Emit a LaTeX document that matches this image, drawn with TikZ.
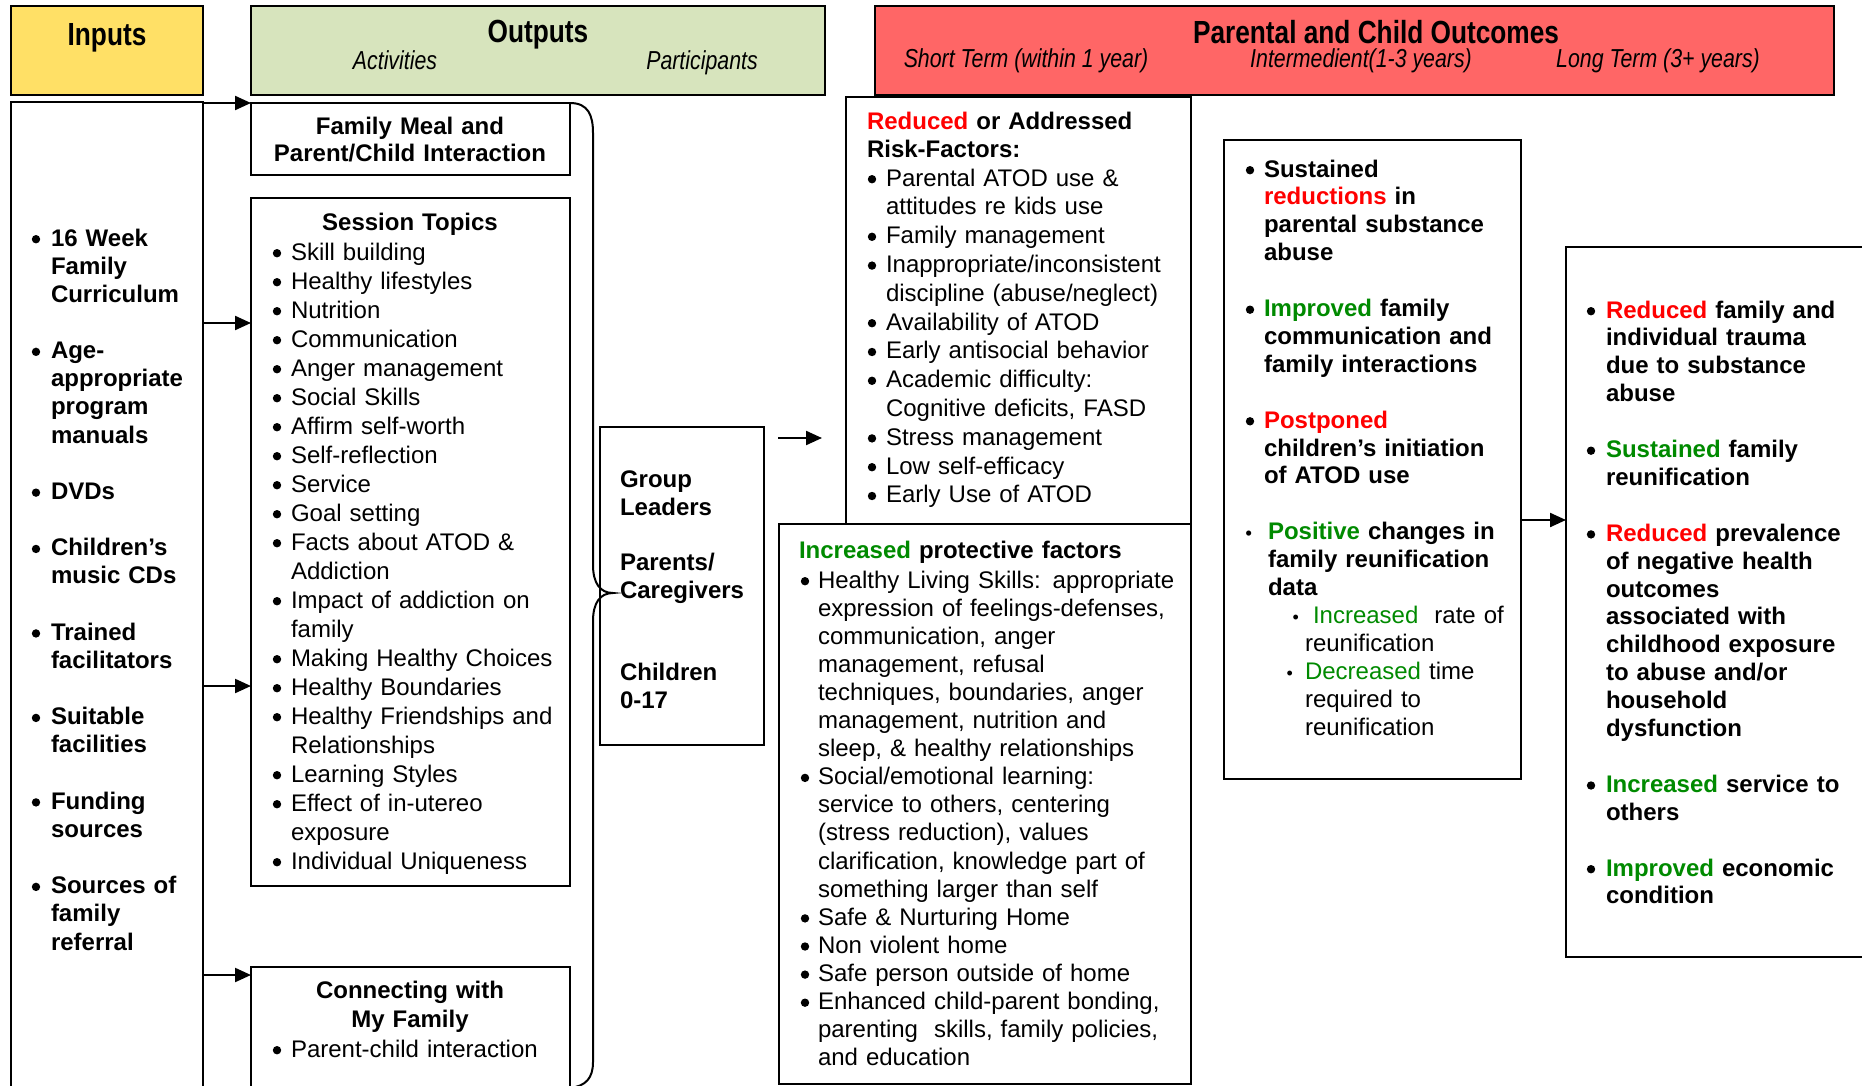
\documentclass[tikz,border=0pt]{standalone}
\usepackage{fontspec}
\setmainfont{Liberation Sans}
\newfontfamily\narrowfont[FakeStretch=0.82]{Liberation Sans}
\usetikzlibrary{arrows.meta}
\definecolor{hy}{HTML}{FFE066}
\definecolor{hg}{HTML}{D7E4BD}
\definecolor{hr}{HTML}{FF6666}
\definecolor{rd}{HTML}{FF0000}
\definecolor{gr}{HTML}{008A00}
\newcommand\bigdot{\tikz[baseline=-3.4pt]\fill[black] (0,0) circle (2.1pt);}
\newcommand\bul[1][4.9pt]{\leavevmode\llap{\bigdot\hspace{#1}}}
\newcommand\sbul[1][7.5pt]{\leavevmode\llap{{\fontsize{9pt}{9pt}\selectfont\textbullet}\hspace{#1}}}
\newcommand\R[1]{\textcolor{rd}{#1}}
\newcommand\G[1]{\textcolor{gr}{#1}}
\begin{document}
\begin{tikzpicture}[x=0.5pt,y={(0,-0.5pt)},
  bx/.style={draw,line width=0.9pt,inner sep=0pt,outer sep=0pt,anchor=north west},
  hd/.style={draw=black,line width=1.2pt,inner sep=0pt,outer sep=0pt,anchor=north west},
  arr/.style={line width=1.1pt,-{Triangle[length=8pt,width=7pt]}},
  tx/.style={anchor=base west,inner sep=0pt,outer sep=0pt,text width=#1,align=left},
  tx/.default=150pt,
  txc/.style={anchor=base,inner sep=0pt,outer sep=0pt,text width=150pt,align=center},
  rg/.style={font=\fontsize{12pt}{#1}\selectfont},
  bd/.style={font=\fontsize{12pt}{#1}\selectfont\bfseries},
  hfont/.style={anchor=base,inner sep=0pt,font=\narrowfont\fontsize{16pt}{18pt}\selectfont\bfseries},
  sfont/.style={anchor=base,inner sep=0pt,font=\narrowfont\fontsize{13pt}{15pt}\selectfont\itshape},
  brace/.style={line width=1pt}
]
\useasboundingbox (0,0) rectangle (1862,1086);
\clip (0,0) rectangle (1862,1086);

% header boxes
\node[hd,fill=hy,minimum width=96pt,minimum height=44.5pt] (hin) at (11,6) {};
\node[hd,fill=hg,minimum width=287pt,minimum height=44.5pt] (hout) at (251,6) {};
\node[hd,fill=hr,minimum width=479.5pt,minimum height=44.5pt] (hpar) at (875,6) {};
\node[hfont] (tin) at (107,46) {Inputs};
\node[hfont] (tout) at (538,43) {Outputs};
\node[sfont] (tact) at (395,70) {Activities};
\node[sfont] (tpart) at (702,70) {Participants};
\node[hfont] (tpar) at (1376,44) {Parental and Child Outcomes};
\node[sfont] (tshort) at (1026,68) {Short Term (within 1 year)};
\node[sfont] (tinter) at (1361,68) {Intermedient(1-3 years)};
\node[sfont] (tlong) at (1658,68) {Long Term (3+ years)};

% body boxes
\node[bx,minimum width=96pt,minimum height=499pt] (inputs) at (11,102) {};
\node[bx,minimum width=159.5pt,minimum height=36pt] (meal) at (251,103) {};
\node[bx,minimum width=159.5pt,minimum height=344pt] (topics) at (251,198) {};
\node[bx,minimum width=159.5pt,minimum height=66.5pt] (connect) at (251,967) {};
\node[bx,minimum width=82pt,minimum height=159pt] (group) at (600,427) {};
\node[bx,minimum width=172.5pt,minimum height=213.5pt] (reduced) at (846,97) {};
\node[bx,minimum width=206pt,minimum height=280pt] (increased) at (779,524) {};
\node[bx,minimum width=148.5pt,minimum height=319.5pt] (inter) at (1224,140) {};
\node[bx,minimum width=157pt,minimum height=355pt] (long) at (1566,247) {};

% inputs text
\node[tx=70pt,bd=14.08pt] (tinputs) at (51,246) {\bul[5.4pt]16 Week\\Family\\Curriculum\\[\baselineskip]
\bul[5.4pt]Age-\\appropriate\\program\\manuals\\[\baselineskip]
\bul[5.4pt]DVDs\\[\baselineskip]
\bul[5.4pt]Children's\\music CDs\\[\baselineskip]
\bul[5.4pt]Trained\\facilitators\\[\baselineskip]
\bul[5.4pt]Suitable\\facilities\\[\baselineskip]
\bul[5.4pt]Funding\\sources\\[\baselineskip]
\bul[5.4pt]Sources of\\family\\referral};

% activities text
\node[txc,bd=13.5pt] (tmeal) at (410,134) {Family Meal and\\Parent/Child Interaction};
\node[txc,bd=14.5pt] (ttop) at (410,230) {Session Topics};
\node[tx=135pt,rg=14.5pt] (tlist) at (291,260) {\bul Skill building\\
\bul Healthy lifestyles\\
\bul Nutrition\\
\bul Communication\\
\bul Anger management\\
\bul Social Skills\\
\bul Affirm self-worth\\
\bul Self-reflection\\
\bul Service\\
\bul Goal setting\\
\bul Facts about ATOD \&\\Addiction\\
\bul Impact of addiction on\\family\\
\bul Making Healthy Choices\\
\bul Healthy Boundaries\\
\bul Healthy Friendships and\\Relationships\\
\bul Learning Styles\\
\bul Effect of in-utereo\\exposure\\
\bul Individual Uniqueness};
\node[txc,bd=14.5pt] (tcon) at (410,998) {Connecting with\\My Family};
\node[tx=135pt,rg=14.5pt] (tconl) at (291,1057) {\bul Parent-child interaction};

% participants
\node[tx=68pt,bd=14pt] (tg1) at (620,487) {Group\\Leaders};
\node[tx=68pt,bd=14pt] (tg2) at (620,570) {Parents/\\Caregivers};
\node[tx=68pt,bd=14pt] (tg3) at (620,680) {Children\\0-17};

% short term
\node[tx=150pt,bd=13.5pt] (tred) at (867,130) {\R{Reduced} or Addressed\\Risk-Factors:};
\node[tx=148pt,rg=14.4pt] (tredl) at (886,186) {\bul Parental ATOD use \&\\attitudes re kids use\\
\bul Family management\\
\bul Inappropriate/inconsistent\\discipline (abuse/neglect)\\
\bul Availability of ATOD\\
\bul Early antisocial behavior\\
\bul Academic difficulty:\\Cognitive deficits, FASD\\
\bul Stress management\\
\bul Low self-efficacy\\
\bul Early Use of ATOD};
\node[tx=180pt,bd=14pt] (tinc) at (799,558) {\G{Increased} protective factors};
\node[tx=180pt,rg=14.05pt] (tincl) at (818,588) {\bul[4.4pt]Healthy Living Skills: appropriate\\expression of feelings-defenses,\\communication, anger\\management, refusal\\techniques, boundaries, anger\\management, nutrition and\\sleep, \& healthy relationships\\
\bul[4.4pt]Social/emotional learning:\\service to others, centering\\(stress reduction), values\\clarification, knowledge part of\\something larger than self\\
\bul[4.4pt]Safe \& Nurturing Home\\
\bul[4.4pt]Non violent home\\
\bul[4.4pt]Safe person outside of home\\
\bul[4.4pt]Enhanced child-parent bonding,\\parenting\ \ skills, family policies,\\and education};

% intermediate
\node[tx=125pt,bd=13.95pt] (tint) at (1264,177) {\bul Sustained\\\R{reductions} in\\parental substance\\abuse\\[\baselineskip]
\bul \G{Improved} family\\communication and\\family interactions\\[\baselineskip]
\bul \R{Postponed}\\children's initiation\\of ATOD use\\[\baselineskip]
\hspace*{2pt}\sbul[8pt]\G{Positive} changes in\\\hspace*{2pt}family reunification\\\hspace*{2pt}data\\
\mdseries\hspace*{20.5pt}\sbul[3pt]\ \G{Increased}\ \ rate of\\\hspace*{20.5pt}reunification\\
\hspace*{20.5pt}\sbul[6pt]\G{Decreased} time\\\hspace*{20.5pt}required to\\\hspace*{20.5pt}reunification};

% long term
\node[tx=125pt,bd=13.95pt] (tlongl) at (1606,318) {\bul[5.4pt]\R{Reduced} family and\\individual trauma\\due to substance\\abuse\\[\baselineskip]
\bul[5.4pt]\G{Sustained} family\\reunification\\[\baselineskip]
\bul[5.4pt]\R{Reduced} prevalence\\of negative health\\outcomes\\associated with\\childhood exposure\\to abuse and/or\\household\\dysfunction\\[\baselineskip]
\bul[5.4pt]\G{Increased} service to\\others\\[\baselineskip]
\bul[5.4pt]\G{Improved} economic\\condition};

% connectors
\coordinate (y1) at (0,103);
\coordinate (y2) at (0,323);
\coordinate (y3) at (0,686);
\coordinate (y4) at (0,975);
\coordinate (y5) at (0,520);
\coordinate (g1) at (778,438);
\coordinate (g2) at (822,438);
\coordinate (btip) at (613,593);
\draw[arr] (inputs.east |- y1) -- (meal.west |- y1);
\draw[arr] (inputs.east |- y2) -- (topics.west |- y2);
\draw[arr] (inputs.east |- y3) -- (topics.west |- y3);
\draw[arr] (inputs.east |- y4) -- (connect.west |- y4);
\draw[arr] (g1) -- (g2);
\draw[arr] (inter.east |- y5) -- (long.west |- y5);

% brace
\draw[brace] (meal.north east) .. controls (588,103) and (593,115) .. (593,133)
  -- (593,565) .. controls (593,583) and (600,593) .. (btip)
  .. controls (600,593) and (593,603) .. (593,621)
  -- (593,1062) .. controls (593,1078) and (586,1086) .. (570,1088);
\end{tikzpicture}
\end{document}
